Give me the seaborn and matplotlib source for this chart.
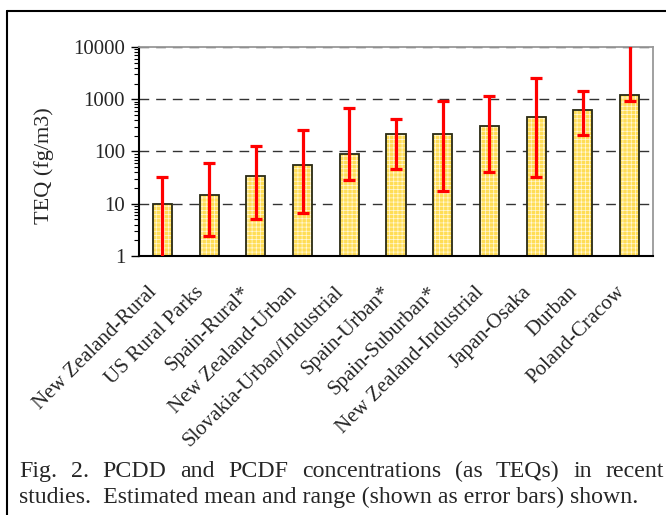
import matplotlib
matplotlib.use('Agg')
import matplotlib.pyplot as plt
import seaborn as sns
import pandas as pd
import numpy as np
from matplotlib.lines import Line2D
from matplotlib.ticker import LogLocator, NullFormatter
from matplotlib.transforms import ScaledTranslation

# ---- data ----
sites = ['New Zealand-Rural', 'US Rural Parks', 'Spain-Rural*', 'New Zealand-Urban',
         'Slovakia-Urban/Industrial', 'Spain-Urban*', 'Spain-Suburban*',
         'New Zealand-Industrial', 'Japan-Osaka', 'Durban', 'Poland-Cracow']
mean_teq = [10, 15, 34, 55, 88, 213, 219, 312, 463, 614, 1190]
low_teq = [0.5, 2.45, 5, 6.6, 29, 47, 17.5, 40, 33, 210, 940]
high_teq = [32, 59, 126, 258, 680, 413, 939, 1138, 2553, 1459, 15000]
y_ticks = [1, 10, 100, 1000, 10000]
y_tick_labels = ['1', '10', '100', '1000', '10000']
y_label = 'TEQ (fg/m3)'
caption_line1 = 'Fig. 2.  PCDD and PCDF concentrations (as TEQs) in recent'
caption_line2 = 'studies.  Estimated mean and range (shown as error bars) shown.'

sns.set_theme(style='white')
plt.rcParams['font.family'] = ['Liberation Serif', 'DejaVu Serif']
plt.rcParams['hatch.linewidth'] = 0.5

W, H = 666, 515
fig = plt.figure(figsize=(W / 100, H / 100), dpi=100)
ax = fig.add_axes([139 / W, 1 - 256 / H, (653 - 139) / W, (256 - 47) / H])
ax.set_yscale('log')

df = pd.DataFrame({'site': sites, 'teq': mean_teq})
# filled, hatched layer (white grid on yellow)
sns.barplot(data=df, x='site', y='teq', ax=ax, color='#FFDD55', saturation=1,
            width=0.41, edgecolor='#FFF8DC', linewidth=0, hatch='++++', errorbar=None)
# outline layer
sns.barplot(data=df, x='site', y='teq', ax=ax, color='#2a2a14', fill=False,
            width=0.41, linewidth=1.3, errorbar=None)

xpos = np.arange(len(sites))
mean_arr = np.array(mean_teq, dtype=float)
yerr = [mean_arr - np.array(low_teq), np.array(high_teq) - mean_arr]
ax.errorbar(xpos, mean_arr, yerr=yerr, fmt='none', ecolor='#FF0000',
            elinewidth=2.3, capsize=4, capthick=2.3, zorder=5)

ax.set_xlim(-0.5, len(sites) - 0.5)
ax.set_ylim(1, 10000)
ax.set_yticks(y_ticks, y_tick_labels)
ax.yaxis.set_minor_locator(LogLocator(base=10, subs=np.arange(2, 10)))
ax.yaxis.set_minor_formatter(NullFormatter())
ax.tick_params(axis='y', which='major', direction='out', length=6, width=1,
               color='black', labelsize=15, pad=4, left=True)
ax.tick_params(axis='y', which='minor', direction='out', length=3.5, width=0.8,
               color='black', left=True)
ax.tick_params(axis='x', which='both', bottom=False, length=0, labelsize=15, pad=24)

shift = ScaledTranslation(-8 / 100, 0, fig.dpi_scale_trans)
for lbl in ax.get_xticklabels():
    lbl.set_rotation(45)
    lbl.set_ha('right')
    lbl.set_va('center')
    lbl.set_rotation_mode('anchor')
    lbl.set_transform(lbl.get_transform() + shift)

ax.set_axisbelow(True)
ax.yaxis.grid(True, which='major', linestyle=(0, (7, 5)), color='#333333', linewidth=1)
ax.xaxis.grid(False)
ax.set_xlabel('')
ax.set_ylabel(y_label, fontsize=16)
ax.yaxis.set_label_coords((54 - 139) / 514, (256 - 166) / 209)

for s in ['left', 'bottom']:
    ax.spines[s].set_color('black')
    ax.spines[s].set_linewidth(1.5)
for s in ['top', 'right']:
    ax.spines[s].set_color('#999999')
    ax.spines[s].set_linewidth(1.3)

# frame lines (left and top of the surrounding box)
fig.add_artist(Line2D([7 / W, 7 / W], [0, 1 - 11 / H], color='black', lw=1.5,
                      transform=fig.transFigure))
fig.add_artist(Line2D([7 / W, 1], [1 - 11 / H, 1 - 11 / H], color='black', lw=1.5,
                      transform=fig.transFigure))

# caption: line 1 justified
renderer = fig.canvas.get_renderer()
fs = 17.2
x_left, x_right = 19, 664
words = [w for w in caption_line1.split(' ') if w != '']
texts = []
widths = []
for w in words:
    t = fig.text(0, 0, w, fontsize=fs)
    bb = t.get_window_extent(renderer=renderer)
    widths.append(bb.width)
    texts.append(t)
gap = (x_right - x_left - sum(widths)) / (len(words) - 1)
x = x_left
y1 = 1 - 477 / H
for t, wdt in zip(texts, widths):
    t.set_position((x / W, y1))
    t.set_va('baseline')
    x += wdt + gap
fig.text(x_left / W, 1 - 503 / H, caption_line2, fontsize=fs, va='baseline')

fig.savefig('out.png', dpi=100)
